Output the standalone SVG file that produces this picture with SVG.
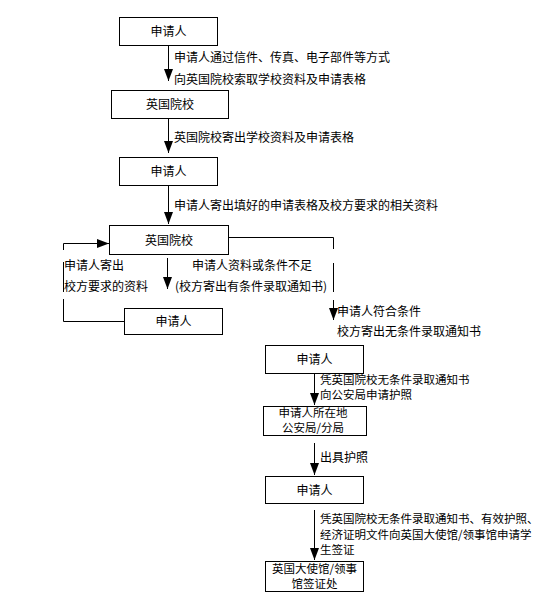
<svg xmlns="http://www.w3.org/2000/svg" width="558" height="595" viewBox="0 0 558 595">
<defs>
<marker id="ah" viewBox="0 -4.5 12 9" refX="12" refY="0" markerWidth="12" markerHeight="9" markerUnits="userSpaceOnUse" orient="auto">
<path d="M0,-4.5 L12,0 L0,4.5 z" fill="#000"/>
</marker>
<style>
.box{fill:#fff;stroke:#000;stroke-width:1}
.t{font-family:"Noto Sans CJK SC","Liberation Sans",sans-serif;font-size:12px;fill:#000}
.s{font-size:11.5px}
.c{text-anchor:middle}
.ln{fill:none;stroke:#000;stroke-width:1}
</style>
</defs>
<rect width="558" height="595" fill="#fff"/>
<g id="connectors">
<line class="ln" x1="168.5" y1="45" x2="168.5" y2="81" marker-end="url(#ah)"/>
<line class="ln" x1="168.5" y1="119" x2="168.5" y2="153" marker-end="url(#ah)"/>
<line class="ln" x1="168.5" y1="186" x2="168.5" y2="224" marker-end="url(#ah)"/>
<polyline class="ln" points="63.5,250 63.5,243.5 109,243.5" marker-end="url(#ah)"/>
<line class="ln" x1="63.5" y1="262" x2="63.5" y2="292"/>
<polyline class="ln" points="63.5,299 63.5,321.5 124,321.5"/>
<line class="ln" x1="167.5" y1="258" x2="167.5" y2="289" marker-end="url(#ah)"/>
<polyline class="ln" points="229,237.5 333.5,237.5 333.5,249"/>
<line class="ln" x1="333.5" y1="263" x2="333.5" y2="292"/>
<line class="ln" x1="333.5" y1="300" x2="333.5" y2="320" marker-end="url(#ah)"/>
<line class="ln" x1="314.5" y1="373" x2="314.5" y2="405" marker-end="url(#ah)"/>
<line class="ln" x1="314.5" y1="443" x2="314.5" y2="475" marker-end="url(#ah)"/>
<line class="ln" x1="314.5" y1="510" x2="314.5" y2="560" marker-end="url(#ah)"/>
</g>
<g id="labels">
<text class="t" x="174" y="62">申请人通过信件、传真、电子部件等方式</text>
<text class="t" x="174" y="84">向英国院校索取学校资料及申请表格</text>
<text class="t" x="174" y="142">英国院校寄出学校资料及申请表格</text>
<text class="t" x="174" y="210">申请人寄出填好的申请表格及校方要求的相关资料</text>
<text class="t" x="64" y="270">申请人寄出</text>
<text class="t" x="64" y="291">校方要求的资料</text>
<text class="t" x="192" y="270">申请人资料或条件不足</text>
<text class="t" x="175" y="291">(校方寄出有条件录取通知书)</text>
<text class="t" x="337" y="316">申请人符合条件</text>
<text class="t" x="337" y="336">校方寄出无条件录取通知书</text>
<text class="t s" x="320" y="384">凭英国院校无条件录取通知书</text>
<text class="t s" x="320" y="399">向公安局申请护照</text>
<text class="t" x="320" y="462">出具护照</text>
<text class="t s" x="320" y="523">凭英国院校无条件录取通知书、有效护照、</text>
<text class="t s" x="320" y="539">经济证明文件向英国大使馆/领事馆申请学</text>
<text class="t s" x="320" y="554">生签证</text>
</g>
<g id="n1"><rect class="box" x="119.5" y="17.5" width="98" height="28"/><text class="t c" x="168.5" y="36">申请人</text></g>
<g id="n2"><rect class="box" x="111.5" y="90.5" width="117" height="28"/><text class="t c" x="170" y="109">英国院校</text></g>
<g id="n3"><rect class="box" x="119.5" y="157.5" width="98" height="28"/><text class="t c" x="168.5" y="176">申请人</text></g>
<g id="n4"><rect class="box" x="109.5" y="225.5" width="119" height="29"/><text class="t c" x="169" y="245">英国院校</text></g>
<g id="n5"><rect class="box" x="124.5" y="308.5" width="98" height="26"/><text class="t c" x="173.5" y="326">申请人</text></g>
<g id="n6"><rect class="box" x="265.5" y="345.5" width="98" height="28"/><text class="t c" x="314.5" y="364">申请人</text></g>
<g id="n7"><rect class="box" x="263.5" y="406.5" width="103" height="29"/><text class="t s c" x="313" y="417">申请人所在地</text><text class="t s c" x="313" y="432">公安局/分局</text></g>
<g id="n8"><rect class="box" x="265.5" y="476.5" width="98" height="27"/><text class="t c" x="314.5" y="495">申请人</text></g>
<g id="n9"><rect class="box" x="265.5" y="561.5" width="98" height="30"/><text class="t s c" x="314.5" y="573">英国大使馆/领事</text><text class="t s c" x="314.5" y="588">馆签证处</text></g>
</svg>
